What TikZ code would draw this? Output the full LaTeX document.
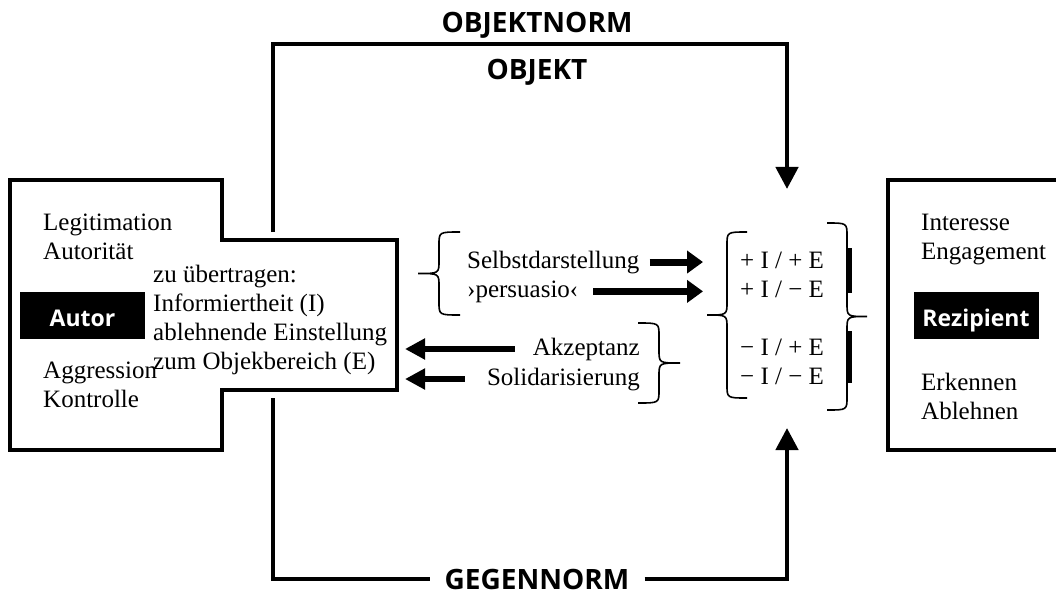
\documentclass[tikz,border=0pt]{standalone}
\usepackage{fontspec}
\setmainfont{Liberation Serif}
\setsansfont{Open Sans}
\usetikzlibrary{arrows.meta}

% geschweifte Klammer: Hakenposition x, oben, unten, Tiefe (negativ = Spitze links)
\newcommand{\klammer}[4]{%
  \draw[klammerlinie] (#1,#2)
    .. controls ({#1+0.5*(#4)},#2) .. ({#1+0.5*(#4)},{#2+13})
    -- ({#1+0.5*(#4)},{0.5*(#2+#3)-13})
    .. controls ({#1+0.5*(#4)},{0.5*(#2+#3)}) .. ({#1+(#4)},{0.5*(#2+#3)})
    .. controls ({#1+0.5*(#4)},{0.5*(#2+#3)}) .. ({#1+0.5*(#4)},{0.5*(#2+#3)+13})
    -- ({#1+0.5*(#4)},{#3-13})
    .. controls ({#1+0.5*(#4)},#3) .. (#1,#3);}

\begin{document}
\begin{tikzpicture}[x=1pt, y=-1pt,
    frame/.style={line width=4.5pt},
    bigarrow/.style={line width=4.5pt, -{Triangle[length=22pt,width=22pt]}},
    fatarrow/.style={line width=7pt, -{Triangle[length=16pt,width=22pt]}},
    backarrow/.style={line width=6pt, -{Triangle[length=20pt,width=20pt]}},
    txt/.style={font=\fontsize{25}{29}\selectfont, inner sep=0pt, anchor=base west},
    norm/.style={font=\sffamily\bfseries\fontsize{28}{30}\selectfont, inner sep=0pt, anchor=base},
    namebox/.style={fill=black, text=white, font=\sffamily\bfseries\fontsize{23}{25}\selectfont,
        minimum width=125pt, minimum height=47pt, text height=22pt, text depth=0pt, inner sep=0pt},
    klammerlinie/.style={line width=1.6pt}
]
\useasboundingbox (0,0) rectangle (1056,596);

% Autor
\draw[frame] (10,180) -- (222,180) -- (222,240) -- (397,240) -- (397,390)
    -- (222,390) -- (222,450) -- (10,450) -- cycle;
\coordinate (ao) at (273,240);
\coordinate (au) at (273,390);
\coordinate (autorrand) at (405,315);
\node[namebox] (autor) at (82.5,315.5) {Autor};
\node[txt] (legitimation) at (43,230) {Legitimation};
\node[txt] (autoritaet) at (43,259) {Autorität};
\node[txt] (aggression) at (43,378) {Aggression};
\node[txt] (kontrolle) at (43,407) {Kontrolle};
\node[txt] (zu) at (153,282) {zu übertragen:};
\node[txt] (info) at (153,311) {Informiertheit (I)};
\node[txt] (einst) at (153,340) {ablehnende Einstellung};
\node[txt] (objbereich) at (153,369) {zum Objekbereich (E)};

% Rezipient
\draw[frame] (1062,180) -- (888,180) -- (888,450) -- (1062,450);
\node[namebox] (rezipient) at (976,315) {Rezipient};
\node[txt] (interesse) at (921,230) {Interesse};
\node[txt] (engagement) at (921,259) {Engagement};
\node[txt] (erkennen) at (921,390) {Erkennen};
\node[txt] (ablehnen) at (921,419) {Ablehnen};

% Mitte
\klammer{460}{232}{315}{-42}
\node[txt] (selbst) at (467,268) {Selbstdarstellung};
\node[txt] (persuasio) at (467,297) {›persuasio‹};
\klammer{638}{323}{403}{42}
\node[txt, anchor=base east] (akzeptanz) at (640,355) {Akzeptanz};
\node[txt, anchor=base east] (solidar) at (640,385) {Solidarisierung};

\coordinate (klammerspitze) at (703,317);
\klammer{747}{232}{398}{-40}
\klammer{827}{223}{410}{40}
\draw[line width=5pt] (849,248) -- (849,293);
\draw[line width=5pt] (849,331) -- (849,383);
\node[txt] (pp) at (740,268) {+ I / + E};
\node[txt] (pm) at (740,297) {+ I / − E};
\node[txt] (mp) at (740,355) {− I / + E};
\node[txt] (mm) at (740,384) {− I / − E};

\draw[fatarrow] ([xshift=10pt]selbst.east) -- (selbst.east -| klammerspitze);
\draw[fatarrow] ([xshift=15pt]persuasio.east) -- (persuasio.east -| klammerspitze);
\draw[backarrow] ([xshift=-18pt]akzeptanz.west) -- (akzeptanz.west -| autorrand);
\draw[backarrow] ([xshift=-22pt]solidar.west) -- (solidar.west -| autorrand);

% Normen
\coordinate (normecke) at (273,44);
\coordinate (zieloben) at (787,189);
\coordinate (zielunten) at (787,428);
\node[norm] (objektnorm) at (537,33) {OBJEKTNORM};
\node[norm] (objekt) at (537,80) {OBJEKT};
\node[norm] (gegennorm) at (537,589) {GEGENNORM};
\draw[bigarrow] ([yshift=8pt]ao) -- (normecke) -| (zieloben);
\draw[frame] ([yshift=-8pt]au) |- ([xshift=-15pt]gegennorm.west);
\draw[bigarrow] ([xshift=15pt]gegennorm.east) -| (zielunten);

\end{tikzpicture}
\end{document}
